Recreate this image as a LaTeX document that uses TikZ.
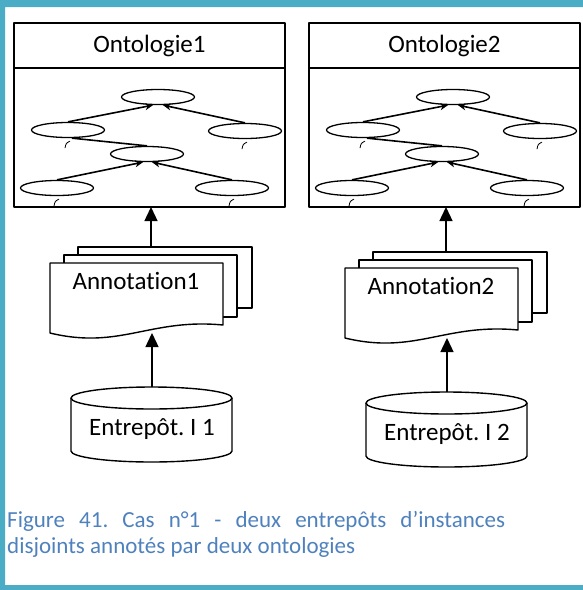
\documentclass[tikz,border=0pt]{standalone}
\usepackage{fontspec}
\setmainfont{Carlito}[Ligatures=NoCommon]
\usetikzlibrary{shapes.geometric,arrows.meta}
\definecolor{frameblue}{HTML}{4BACC6}
\definecolor{capblue}{HTML}{4F81BD}
\frenchspacing
\tikzset{
  classe/.style={draw, ellipse, line width=1.3pt, minimum width=73pt, minimum height=15pt, inner sep=0pt},
  isa/.style={line width=1.6pt, -{Stealth[length=8pt,width=7pt]}},
  flow/.style={line width=1.4pt, -{Triangle[length=14pt,width=13pt]}},
  txt/.style={font=\fontsize{25}{30}\selectfont, inner sep=0pt, anchor=base},
  feuille/.style={line width=1.4pt, fill=white}
}
\begin{document}
\begin{tikzpicture}[x=1pt, y=-1pt, line join=round]
\useasboundingbox (0,0) rectangle (583,590);
\fill[frameblue] (0,0) rectangle (583,7) (0,0) rectangle (5,590) (0,585) rectangle (583,590);
\foreach \i/\dx/\dy in {1/0/0,2/295/5}
{
\begin{scope}[shift={(\dx,0)}]
	% ontologie
	\node[draw, line width=1.8pt, minimum width=271pt, minimum height=184pt, inner sep=0pt, outer sep=0pt] (onto\i) at (149.5,115) {};
	\draw[line width=1.8pt] (onto\i.north west) ++(0,45) -- ++(271,0);
	\node[txt] (tit\i) at (149.5,52) {Ontologie\i};
	\node[classe] (t\i) at (158,97) {};
	\node[classe] (lm\i) at (68,130) {};
	\node[classe] (rm\i) at (245,131) {};
	\node[classe] (m\i) at (147,154) {};
	\node[classe] (bl\i) at (57,188) {};
	\node[classe] (br\i) at (232,188) {};
	\draw[isa] (lm\i.north) -- ([xshift=-5pt]t\i.south);
	\draw[isa] (rm\i.north) -- ([xshift=5pt]t\i.south);
	\draw[line width=1.6pt] ([xshift=4pt]lm\i.south) -- (m\i.north);
	\draw[isa] (bl\i.north) -- ([xshift=-4pt]m\i.south);
	\draw[isa] (br\i.north) -- ([xshift=5pt]m\i.south);
	\foreach \n in {lm,rm,bl,br}
		{\draw[line width=0.8pt] ([shift={(-3,10)}]\n\i.south) .. controls +(1,-5) .. +(5,-7);}
	\begin{scope}[shift={(0,\dy)}]
		% annotations
		\draw[feuille] (78,247) rectangle (252,308);
		\draw[feuille] (64,255) rectangle (237,317);
		\draw[feuille] (50,263) -- (223,263) -- (223,325) .. controls (150,318) and (120,350) .. (50,333) -- cycle;
		\node[txt] (ann\i) at (136,289) {Annotation\i};
		\coordinate (pgtop\i) at (151,247);
		\coordinate (pgbas\i) at (152,333);
		% entrepot
		\draw[feuille] (71,398) -- (71,451) arc[start angle=180, end angle=0, x radius=80.5, y radius=11] -- (232,398);
		\draw[feuille] (151.5,398) ellipse [x radius=80.5, y radius=11];
		\coordinate (cyl\i) at (152,387);
		\node[txt] (ent\i) at (152,435) {Entrepôt. I \i};
		\draw[flow] (cyl\i) -- (pgbas\i);
		\draw[flow] (pgtop\i) -- (pgtop\i |- onto\i.south);
	\end{scope}
\end{scope}
}
\node[anchor=base west, inner sep=0pt, text=capblue, font=\fontsize{23}{26}\selectfont] (cap1) at (7,527) {\makebox[498pt][s]{Figure 41. Cas n°1 - deux entrepôts d’instances}};
\node[anchor=base west, inner sep=0pt, text=capblue, font=\fontsize{23}{26}\selectfont] (cap2) at (7,553) {disjoints annotés par deux ontologies};
\end{tikzpicture}
\end{document}
